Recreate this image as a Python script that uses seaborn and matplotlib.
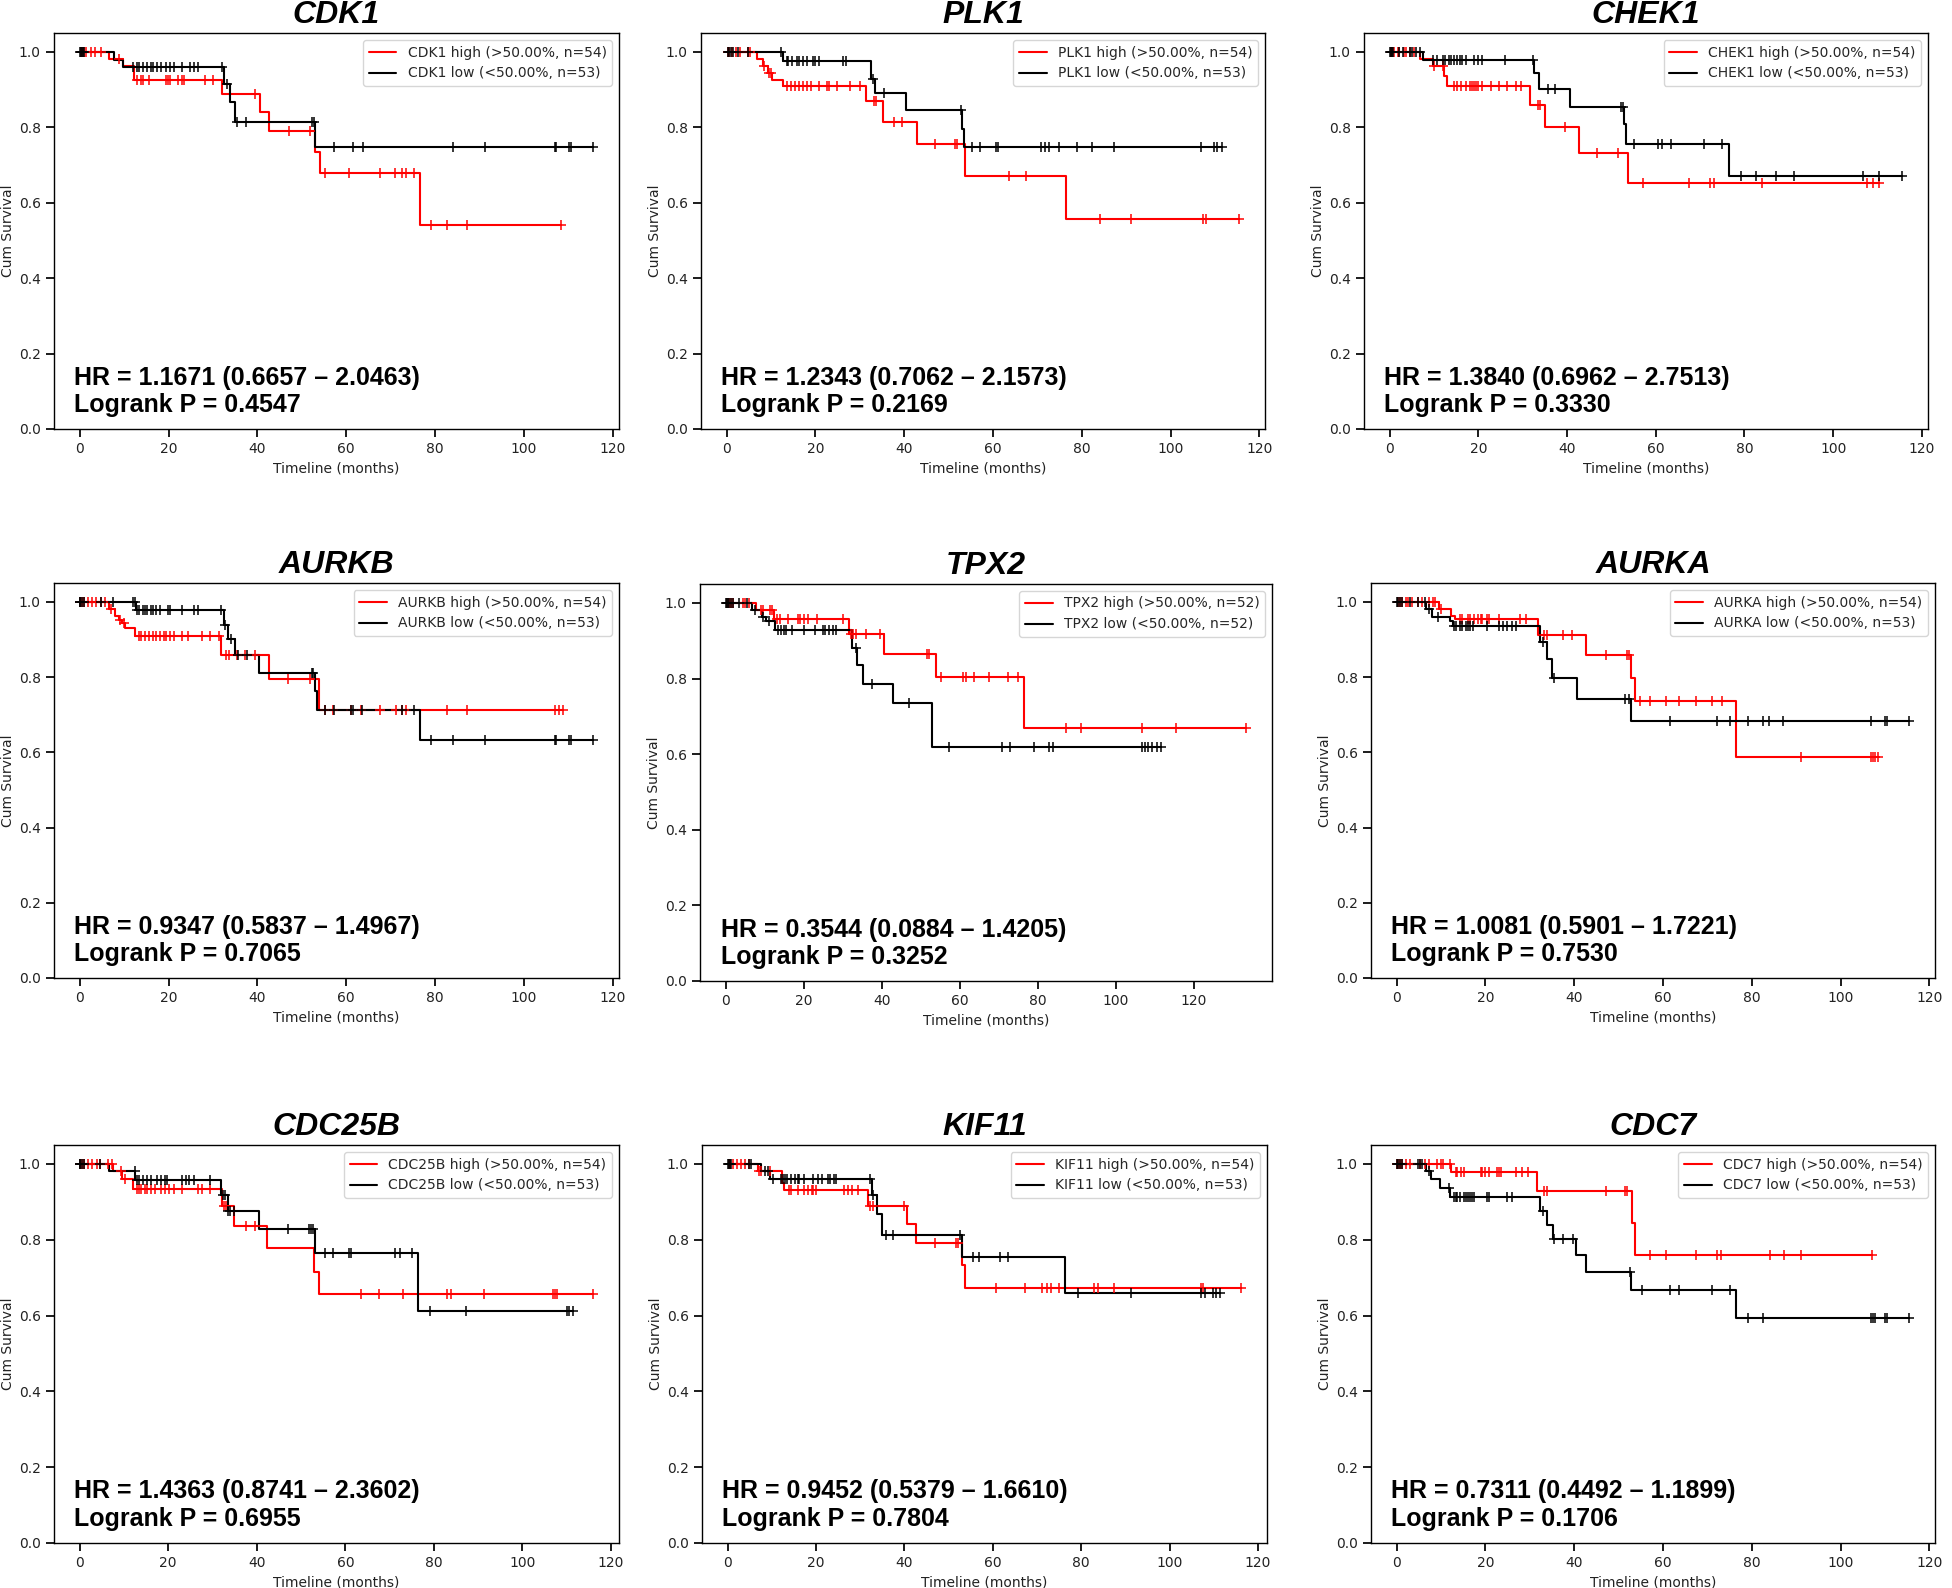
import numpy as np
import pandas as pd
import seaborn as sns
import matplotlib.pyplot as plt

# panels, in reading order
GENES = ["CDK1", "PLK1", "CHEK1", "AURKB", "TPX2", "AURKA", "CDC25B", "KIF11", "CDC7"]
N_HIGH = [54, 54, 54, 54, 52, 54, 54, 54, 54]
N_LOW = [53, 53, 53, 53, 52, 53, 53, 53, 53]
HR = [1.1671, 1.2343, 1.3840, 0.9347, 0.3544, 1.0081, 1.4363, 0.9452, 0.7311]
HR_LO = [0.6657, 0.7062, 0.6962, 0.5837, 0.0884, 0.5901, 0.8741, 0.5379, 0.4492]
HR_HI = [2.0463, 2.1573, 2.7513, 1.4967, 1.4205, 1.7221, 2.3602, 1.6610, 1.1899]
LOGRANK_P = [0.4547, 0.2169, 0.3330, 0.7065, 0.3252, 0.7530, 0.6955, 0.7804, 0.1706]

# Kaplan-Meier curves: drop times (_T), survival after
# each drop (_S) and censoring times (_C), in months
CDK1_HIGH_T = [6.5, 9.8, 12.3, 32.0, 40.5, 42.5, 53.0, 54.0, 76.5]
CDK1_HIGH_S = [0.981, 0.963, 0.926, 0.887, 0.840, 0.789, 0.735, 0.678, 0.540]
CDK1_HIGH_C = [0.3, 0.6, 1.0, 1.5, 2.5, 3.5, 4.8, 8.8, 12.9, 13.8, 14.3, 15.6, 19.4, 19.8, 20.3, 22.1,
               23.0, 23.5, 28.1, 29.9, 39.5, 47.0, 51.9, 55.3, 60.6, 67.5, 70.9, 72.5, 73.4, 75.3,
               79.1, 82.6, 87.2, 108.3]
CDK1_LOW_T = [7.7, 9.7, 32.5, 33.8, 35.0, 53.0]
CDK1_LOW_S = [0.979, 0.959, 0.915, 0.867, 0.813, 0.747]
CDK1_LOW_C = [0.1, 0.3, 0.5, 0.7, 1.0, 12.0, 12.9, 13.3, 14.2, 15.2, 16.1, 16.6, 17.5, 18.4, 19.4, 20.3,
              21.2, 23.0, 24.8, 25.8, 26.7, 32.0, 33.1, 35.4, 37.4, 52.3, 52.7, 57.2, 61.6, 63.7,
              84.0, 91.3, 106.9, 107.3, 110.1, 110.6, 115.6]

PLK1_HIGH_T = [6.8, 8.2, 9.3, 10.2, 12.6, 31.3, 35.2, 42.8, 53.8, 76.5]
PLK1_HIGH_S = [0.981, 0.963, 0.944, 0.926, 0.910, 0.871, 0.814, 0.755, 0.670, 0.556]
PLK1_HIGH_C = [0.2, 0.6, 1.1, 2.0, 2.9, 4.8, 5.2, 8.4, 9.6, 10.0, 13.5, 14.4, 15.3, 16.2, 17.1, 18.1,
               19.0, 20.8, 22.6, 23.1, 24.9, 27.7, 30.0, 33.2, 33.6, 37.8, 39.6, 46.9, 51.5, 52.0,
               63.7, 67.4, 84.0, 91.2, 107.4, 107.9, 115.5]
PLK1_LOW_T = [12.6, 32.5, 33.5, 40.5, 53.1, 53.4]
PLK1_LOW_S = [0.977, 0.929, 0.891, 0.845, 0.796, 0.747]
PLK1_LOW_C = [0.2, 0.5, 1.0, 1.5, 2.5, 4.7, 12.2, 13.5, 13.9, 14.8, 15.8, 16.4, 17.1, 18.1, 19.4, 19.9,
              20.8, 26.3, 26.8, 32.9, 35.5, 52.9, 55.2, 57.0, 60.7, 61.1, 70.8, 71.7, 72.6, 74.9,
              79.0, 82.4, 87.3, 106.8, 109.7, 110.4, 111.5]

CHEK1_HIGH_T = [6.9, 9.7, 12.3, 13.0, 31.7, 35.1, 42.8, 53.8]
CHEK1_HIGH_S = [0.981, 0.962, 0.935, 0.910, 0.859, 0.801, 0.733, 0.653]
CHEK1_HIGH_C = [0.3, 0.6, 1.0, 1.8, 2.2, 3.2, 3.6, 4.6, 5.5, 9.9, 12.0, 14.4, 15.3, 16.2, 17.2, 18.1,
                18.6, 19.0, 19.5, 20.0, 20.9, 22.8, 24.6, 26.5, 28.4, 29.7, 33.5, 34.0, 39.6, 46.8,
                51.5, 57.1, 67.5, 72.2, 73.1, 84.0, 107.6, 109.0, 110.4]
CHEK1_LOW_T = [7.6, 32.6, 33.7, 40.6, 52.8, 53.3, 76.6]
CHEK1_LOW_S = [0.979, 0.944, 0.902, 0.855, 0.808, 0.757, 0.671]
CHEK1_LOW_C = [0.1, 0.3, 0.5, 0.8, 2.2, 3.1, 4.6, 5.0, 6.0, 6.9, 9.7, 10.6, 12.0, 12.5, 13.4, 13.9,
               14.4, 15.1, 15.8, 16.4, 17.2, 19.0, 19.9, 20.9, 26.0, 32.3, 35.6, 37.2, 52.1, 52.6,
               55.2, 60.6, 61.5, 63.5, 70.8, 75.0, 79.2, 82.5, 87.1, 91.1, 106.7, 110.4, 115.6]

AURKB_HIGH_T = [6.5, 7.9, 8.8, 9.6, 10.3, 12.5, 31.9, 42.6, 53.9]
AURKB_HIGH_S = [0.981, 0.963, 0.952, 0.943, 0.930, 0.908, 0.858, 0.794, 0.713]
AURKB_HIGH_C = [0.1, 0.5, 1.0, 1.9, 2.8, 3.7, 4.7, 5.6, 7.0, 9.0, 9.9, 13.4, 13.9, 14.8, 15.7, 16.6,
                17.1, 18.0, 18.9, 19.4, 20.3, 21.2, 23.0, 24.4, 27.6, 29.4, 31.3, 32.9, 33.6, 35.4,
                37.2, 39.5, 46.8, 51.9, 55.1, 56.9, 61.1, 63.4, 67.5, 71.1, 72.5, 73.4, 82.6, 87.2,
                106.9, 107.8, 108.7]
AURKB_LOW_T = [12.7, 32.4, 33.4, 34.9, 40.4, 53.0, 53.3, 76.5]
AURKB_LOW_S = [0.979, 0.939, 0.901, 0.858, 0.811, 0.762, 0.713, 0.633]
AURKB_LOW_C = [0.0, 0.1, 0.5, 1.0, 4.7, 7.4, 12.0, 12.5, 12.9, 13.4, 14.3, 14.8, 15.2, 16.1, 16.6, 17.1,
               18.0, 19.8, 20.3, 23.0, 25.8, 26.7, 31.7, 32.7, 34.0, 35.7, 37.7, 52.2, 52.6, 55.1,
               57.2, 61.1, 61.5, 63.6, 72.5, 75.3, 79.1, 84.0, 91.3, 106.9, 107.3, 110.1, 110.6, 115.6]

TPX2_HIGH_T = [7.8, 12.3, 31.6, 40.5, 53.8, 76.4]
TPX2_HIGH_S = [0.981, 0.958, 0.919, 0.864, 0.805, 0.670]
TPX2_HIGH_C = [0.2, 0.7, 1.3, 1.8, 4.4, 4.9, 6.0, 9.1, 9.6, 11.2, 11.7, 13.1, 13.8, 15.9, 18.5, 19.0,
               20.1, 21.1, 23.2, 30.0, 32.1, 32.6, 33.2, 35.8, 39.4, 51.5, 52.0, 55.1, 60.7, 61.4,
               63.5, 67.4, 72.2, 74.8, 87.2, 91.0, 106.7, 115.3, 133.3]
TPX2_LOW_T = [6.7, 9.2, 10.3, 12.5, 32.3, 33.7, 35.0, 42.8, 52.8]
TPX2_LOW_S = [0.981, 0.962, 0.952, 0.928, 0.882, 0.835, 0.786, 0.734, 0.618]
TPX2_LOW_C = [0.0, 0.2, 0.5, 0.8, 1.3, 1.8, 3.3, 5.4, 7.5, 9.6, 11.0, 13.3, 14.1, 14.9, 15.4, 16.9,
              20.1, 22.7, 24.8, 25.3, 26.4, 27.4, 28.1, 33.2, 37.3, 47.0, 57.2, 70.8, 72.7, 79.0,
              82.8, 83.7, 106.7, 107.4, 108.3, 109.3, 110.4, 111.6]

AURKA_HIGH_T = [9.5, 12.2, 13.2, 31.9, 42.7, 52.9, 53.7, 76.5]
AURKA_HIGH_S = [0.981, 0.962, 0.955, 0.911, 0.859, 0.798, 0.737, 0.588]
AURKA_HIGH_C = [0.2, 0.7, 1.1, 2.1, 2.5, 3.5, 4.9, 5.8, 7.2, 8.1, 8.6, 10.0, 14.2, 14.7, 16.1, 16.5,
                17.5, 18.4, 18.9, 19.3, 20.3, 20.7, 23.1, 27.7, 29.1, 33.3, 33.8, 37.5, 39.4, 47.1,
                51.8, 52.3, 54.8, 57.1, 60.6, 63.7, 67.4, 71.0, 73.3, 91.2, 106.9, 107.4, 107.8, 108.5]
AURKA_LOW_T = [6.7, 7.9, 12.1, 12.8, 32.4, 33.8, 34.9, 40.6, 52.8]
AURKA_LOW_S = [0.981, 0.959, 0.948, 0.936, 0.894, 0.848, 0.797, 0.742, 0.682]
AURKA_LOW_C = [0.0, 0.2, 0.7, 1.1, 3.0, 4.9, 6.3, 7.2, 9.3, 13.0, 13.3, 14.2, 14.8, 15.6, 16.1, 16.5,
               17.2, 20.3, 23.1, 24.0, 24.9, 25.9, 26.8, 32.9, 35.4, 51.5, 52.3, 61.6, 72.1, 75.1,
               79.1, 82.6, 83.8, 87.0, 106.9, 109.9, 110.4, 115.5]

CDC25B_HIGH_T = [7.5, 9.5, 12.0, 32.2, 34.9, 42.4, 53.0, 54.0]
CDC25B_HIGH_S = [0.981, 0.960, 0.934, 0.888, 0.837, 0.777, 0.716, 0.658]
CDC25B_HIGH_C = [0.1, 0.5, 1.0, 1.9, 2.8, 3.8, 4.7, 6.5, 7.2, 9.3, 10.2, 12.9, 13.4, 13.8, 14.8, 15.2,
                 16.1, 17.0, 18.4, 19.3, 20.2, 21.2, 23.0, 26.7, 27.6, 29.4, 32.6, 33.1, 37.5, 39.5,
                 63.6, 67.5, 73.1, 82.9, 83.8, 91.3, 106.9, 107.3, 107.8, 116.0]
CDC25B_LOW_T = [6.6, 12.6, 32.0, 33.4, 40.4, 53.1, 76.4]
CDC25B_LOW_S = [0.981, 0.958, 0.917, 0.875, 0.828, 0.766, 0.611]
CDC25B_LOW_C = [0.0, 0.1, 0.5, 1.0, 4.7, 12.4, 12.9, 13.4, 14.3, 15.2, 16.1, 17.5, 18.4, 19.3, 19.8,
                23.0, 23.9, 24.8, 25.8, 29.4, 32.4, 32.9, 33.5, 34.0, 34.9, 47.0, 51.9, 52.3, 52.8,
                55.4, 57.2, 60.8, 61.3, 71.1, 72.3, 75.1, 79.1, 87.2, 110.1, 110.5, 111.5]

KIF11_HIGH_T = [6.8, 12.4, 12.8, 31.7, 40.6, 42.7, 52.9, 53.7]
KIF11_HIGH_S = [0.981, 0.951, 0.932, 0.890, 0.842, 0.792, 0.733, 0.672]
KIF11_HIGH_C = [0.2, 0.6, 1.1, 2.0, 2.9, 3.9, 4.8, 7.1, 7.5, 9.5, 13.9, 14.4, 15.8, 17.2, 18.1, 19.0,
                19.4, 19.9, 26.3, 27.2, 28.2, 29.5, 32.3, 32.8, 39.8, 47.0, 51.6, 52.0, 60.6, 67.3,
                71.1, 72.2, 73.1, 75.0, 82.8, 83.7, 87.3, 107.1, 107.5, 116.2]
KIF11_LOW_T = [7.5, 9.5, 32.6, 33.7, 34.9, 52.9, 76.3]
KIF11_LOW_S = [0.982, 0.961, 0.917, 0.867, 0.813, 0.754, 0.659]
KIF11_LOW_C = [0.0, 0.2, 0.5, 0.8, 4.8, 5.2, 8.4, 9.2, 10.3, 12.1, 12.6, 13.0, 13.5, 14.4, 15.3, 15.8,
               16.2, 17.2, 19.4, 20.4, 21.3, 22.7, 23.1, 24.0, 24.5, 32.1, 32.8, 35.8, 37.5, 52.5,
               55.4, 56.9, 61.7, 63.5, 79.3, 91.2, 107.1, 108.0, 109.8, 110.5, 111.4]

CDC7_HIGH_T = [12.3, 31.7, 53.1, 53.7]
CDC7_HIGH_S = [0.979, 0.928, 0.845, 0.760]
CDC7_HIGH_C = [0.0, 0.2, 0.7, 1.1, 2.1, 3.0, 5.3, 6.3, 7.2, 9.1, 10.0, 10.5, 12.0, 13.3, 13.7, 14.5,
               15.1, 18.9, 19.3, 19.8, 20.7, 22.6, 23.1, 23.5, 26.8, 28.2, 29.6, 33.3, 33.8, 47.2,
               51.5, 52.0, 57.1, 60.6, 67.4, 72.1, 73.0, 84.0, 87.2, 91.2, 107.1]
CDC7_LOW_T = [6.7, 7.7, 9.7, 12.1, 32.4, 33.8, 35.2, 40.3, 42.7, 52.8, 76.5]
CDC7_LOW_S = [0.981, 0.961, 0.936, 0.913, 0.875, 0.840, 0.802, 0.761, 0.716, 0.667, 0.593]
CDC7_LOW_C = [0.0, 0.2, 0.7, 1.1, 4.9, 5.3, 5.8, 7.2, 11.9, 13.0, 13.3, 13.7, 14.2, 15.1, 15.6, 16.1,
              16.5, 17.0, 17.5, 20.3, 20.7, 24.9, 25.9, 32.9, 35.4, 37.5, 39.7, 52.5, 55.3, 61.6,
              63.7, 71.0, 75.1, 79.1, 82.6, 106.9, 107.4, 107.8, 109.9, 110.4, 115.5]

CURVES = {
    "CDK1": ((CDK1_HIGH_T, CDK1_HIGH_S, CDK1_HIGH_C), (CDK1_LOW_T, CDK1_LOW_S, CDK1_LOW_C)),
    "PLK1": ((PLK1_HIGH_T, PLK1_HIGH_S, PLK1_HIGH_C), (PLK1_LOW_T, PLK1_LOW_S, PLK1_LOW_C)),
    "CHEK1": ((CHEK1_HIGH_T, CHEK1_HIGH_S, CHEK1_HIGH_C), (CHEK1_LOW_T, CHEK1_LOW_S, CHEK1_LOW_C)),
    "AURKB": ((AURKB_HIGH_T, AURKB_HIGH_S, AURKB_HIGH_C), (AURKB_LOW_T, AURKB_LOW_S, AURKB_LOW_C)),
    "TPX2": ((TPX2_HIGH_T, TPX2_HIGH_S, TPX2_HIGH_C), (TPX2_LOW_T, TPX2_LOW_S, TPX2_LOW_C)),
    "AURKA": ((AURKA_HIGH_T, AURKA_HIGH_S, AURKA_HIGH_C), (AURKA_LOW_T, AURKA_LOW_S, AURKA_LOW_C)),
    "CDC25B": ((CDC25B_HIGH_T, CDC25B_HIGH_S, CDC25B_HIGH_C), (CDC25B_LOW_T, CDC25B_LOW_S, CDC25B_LOW_C)),
    "KIF11": ((KIF11_HIGH_T, KIF11_HIGH_S, KIF11_HIGH_C), (KIF11_LOW_T, KIF11_LOW_S, KIF11_LOW_C)),
    "CDC7": ((CDC7_HIGH_T, CDC7_HIGH_S, CDC7_HIGH_C), (CDC7_LOW_T, CDC7_LOW_S, CDC7_LOW_C)),
}

sns.set_theme(style="ticks", rc={
    "axes.edgecolor": "black",
    "axes.linewidth": 1.0,
    "xtick.color": "black",
    "ytick.color": "black",
    "xtick.labelcolor": "#222222",
    "ytick.labelcolor": "#222222",
    "axes.labelcolor": "#222222",
    "xtick.labelsize": 10,
    "ytick.labelsize": 10,
    "axes.labelsize": 10,
})
plt.rcParams["font.family"] = ["DejaVu Sans"]
big_font = ["Liberation Sans", "DejaVu Sans"]


def km_frame(t, s, c):
    end = max(c)
    x = [0.0] + list(t) + [end]
    y = [1.0] + list(s) + [s[-1]]
    return pd.DataFrame({"time": x, "surv": y})


def censor_frame(t, s, c):
    levels = np.r_[1.0, s]
    idx = np.searchsorted(np.asarray(t), np.asarray(c), side="right")
    return pd.DataFrame({"time": c, "surv": levels[idx]})


fig = plt.figure(figsize=(19.52, 15.88), dpi=100)
W, H = 1952, 1588
# axes boxes in pixels: left, right, top, bottom
boxes = [
    (54, 619, 33, 429), (701, 1265, 33, 429), (1364, 1928, 33, 429),
    (54, 619, 583, 978), (700, 1272, 584, 981), (1371, 1935, 583, 978),
    (54, 619, 1145, 1543), (702, 1267, 1145, 1543), (1371, 1935, 1145, 1543),
]

for i, gene in enumerate(GENES):
    l, r, t_, b = boxes[i]
    ax = fig.add_axes([l / W, 1 - b / H, (r - l) / W, (b - t_) / H])
    high, low = CURVES[gene]
    groups = [
        (high, "red", f"{gene} high (>50.00%, n={N_HIGH[i]})"),
        (low, "black", f"{gene} low (<50.00%, n={N_LOW[i]})"),
    ]
    for (t, s, c), color, label in groups:
        sns.lineplot(data=km_frame(t, s, c), x="time", y="surv", ax=ax,
                     drawstyle="steps-post", estimator=None, sort=False,
                     color=color, linewidth=1.5, label=label)
        sns.scatterplot(data=censor_frame(t, s, c), x="time", y="surv", ax=ax,
                        marker="+", s=60, color=color, linewidth=1.1,
                        legend=False, zorder=3)

    ax.set_ylim(0, 1.05)
    ax.set_xlabel("Timeline (months)")
    ax.set_ylabel("Cum Survival", labelpad=3)
    ax.set_title(gene, fontsize=23, fontweight="bold", fontstyle="italic",
                 family=big_font, color="black", pad=7)
    ax.legend(loc="upper right", fontsize=10, frameon=True, fancybox=True,
              edgecolor="0.8", framealpha=0.8)
    ax.text(0.036, 0.112, f"HR = {HR[i]:.4f} ({HR_LO[i]:.4f} \u2013 {HR_HI[i]:.4f})",
            transform=ax.transAxes, fontsize=18, fontweight="bold", color="black",
            family=big_font, va="baseline")
    ax.text(0.036, 0.042, f"Logrank P = {LOGRANK_P[i]:.4f}",
            transform=ax.transAxes, fontsize=18, fontweight="bold", color="black",
            family=big_font, va="baseline")

fig.savefig("out.png", dpi=100)
